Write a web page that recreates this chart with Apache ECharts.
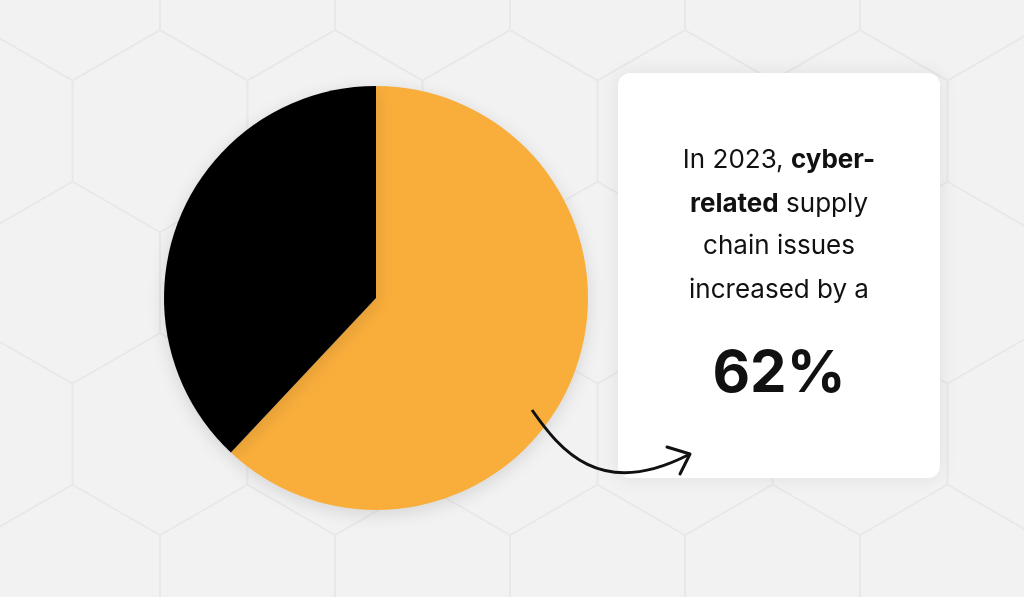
<!DOCTYPE html>
<html><head><meta charset="utf-8">
<script src="https://cdn.jsdelivr.net/npm/echarts@6/dist/echarts.min.js"></script>
<style>html,body{margin:0;padding:0;background:#f2f2f2;}#c{width:1024px;height:597px;}</style>
</head><body><div id="c"></div>
<script>
const categories = ['Cyber-related increase', 'Other'];
const values = [62, 38];
const colors = ['#F9AE3C', '#000000'];
const chart = echarts.init(document.getElementById('c'));
const F = 'Inter, "Noto Sans", sans-serif';
const textLines = [
  {y:160, parts:[['In 2023, ','n'],['cyber-','b']]},
  {y:204, parts:[['related','b'],[' supply','n']]},
  {y:246, parts:[['chain issues','n']]},
  {y:290, parts:[['increased by a','n']]}
];
const graphics = [];
// decorative hexagon background
const hw = 175, s = hw/Math.sqrt(3);
for (let r=-1; r<6; r++) {
  for (let c=-1; c<8; c++) {
    const cx = 160 - hw/2 + c*hw + (r%2 ? hw/2 : 0);
    const cy = -s/2 + 30 + r*1.5*s;
    const pts = [];
    for (let k=0;k<6;k++){ const a=Math.PI/180*(60*k-30); pts.push([cx+s*Math.cos(a), cy+s*Math.sin(a)]); }
    graphics.push({type:'polygon', shape:{points:pts}, style:{fill:null, stroke:'#e8e8e8', lineWidth:1.5}, z:0, silent:true});
  }
}
graphics.push(
  {type:'rect', shape:{x:618,y:73,width:322,height:405,r:12}, style:{fill:'#fff',shadowBlur:20,shadowColor:'rgba(0,0,0,0.08)'}, z:1},
  {type:'text', x:779, y:375, style:{text:'62%', font:'bold 58px '+F, fill:'#111', align:'center', verticalAlign:'middle'}, z:3},
  {type:'bezierCurve', shape:{x1:532,y1:410,cpx1:560,cpy1:450,cpx2:600,cpy2:500,x2:688,y2:455}, style:{stroke:'#111',lineWidth:3,fill:null}, z:5},
  {type:'polyline', shape:{points:[[667,447],[690,454],[680,474]]}, style:{stroke:'#111',lineWidth:3,fill:null,lineCap:'round',lineJoin:'round'}, z:5}
);
textLines.forEach(l => {
  graphics.push({type:'text', x:779, y:l.y, z:3, style:{
    rich:{n:{font:'26px '+F,fill:'#111'}, b:{font:'bold 26px '+F,fill:'#111'}},
    text:l.parts.map(p=>'{'+p[1]+'|'+p[0]+'}').join(''), align:'center', verticalAlign:'middle'}});
});
chart.setOption({
  backgroundColor:'#f2f2f2',
  graphic:graphics,
  series:[{type:'pie', center:[376,298], radius:212, startAngle:90, clockwise:true, z:2,
    label:{show:false}, labelLine:{show:false}, silent:true,
    itemStyle:{shadowBlur:18, shadowColor:'rgba(0,0,0,0.12)', shadowOffsetY:4},
    data:categories.map((c,i)=>({name:c,value:values[i],itemStyle:{color:colors[i]}}))}]
});
</script></body></html>
